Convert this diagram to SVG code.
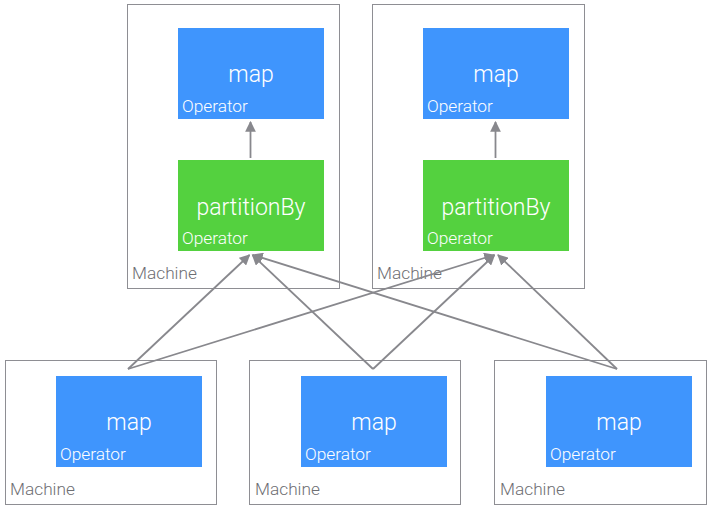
<svg xmlns="http://www.w3.org/2000/svg" width="708" height="508" viewBox="0 0 708 508">
<defs>
<style>
.machine{fill:#fff;stroke:#8e8e93;stroke-width:1}
.mlabel{font-family:Roboto,"Liberation Sans",sans-serif;font-weight:300;font-size:17.3px;fill:#6e6e73}
.map{fill:#3f95fd}
.part{fill:#54d13f}
.title{font-family:Roboto,"Liberation Sans",sans-serif;font-weight:300;font-size:23px;fill:#fff;text-anchor:middle}
.op{font-family:Roboto,"Liberation Sans",sans-serif;font-weight:300;font-size:17.3px;fill:#fff}
.conn{stroke:#88888d;stroke-width:1.8;fill:none;marker-end:url(#ah)}
</style>
<marker id="ah" viewBox="0 0 10 10" refX="9" refY="5" markerWidth="6" markerHeight="6" orient="auto" markerUnits="strokeWidth">
<path d="M0,0 L10,5 L0,10 z" fill="#88888d"/>
</marker>
</defs>
<g id="machine-top-left">
<rect class="machine" x="127.5" y="4.5" width="212" height="284"/>
<text class="mlabel" x="132" y="279">Machine</text>
</g>
<g id="machine-top-right">
<rect class="machine" x="372.5" y="4.5" width="212" height="284"/>
<text class="mlabel" x="377" y="279">Machine</text>
</g>
<g id="machine-bottom-left">
<rect class="machine" x="5.5" y="360.5" width="211" height="144"/>
<text class="mlabel" x="10" y="495">Machine</text>
</g>
<g id="machine-bottom-mid">
<rect class="machine" x="249.5" y="360.5" width="211" height="144"/>
<text class="mlabel" x="255" y="495">Machine</text>
</g>
<g id="machine-bottom-right">
<rect class="machine" x="494.5" y="360.5" width="212" height="144"/>
<text class="mlabel" x="500" y="495">Machine</text>
</g>
<g id="map-top-left">
<rect class="map" x="178" y="28" width="146" height="91"/>
<text class="title" x="251" y="82">map</text>
<text class="op" x="182" y="112">Operator</text>
</g>
<g id="partition-top-left">
<rect class="part" x="178" y="160" width="146" height="91"/>
<text class="title" x="251" y="215">partitionBy</text>
<text class="op" x="182" y="244">Operator</text>
</g>
<g id="map-top-right">
<rect class="map" x="423" y="28" width="146" height="91"/>
<text class="title" x="496" y="82">map</text>
<text class="op" x="427" y="112">Operator</text>
</g>
<g id="partition-top-right">
<rect class="part" x="423" y="160" width="146" height="91"/>
<text class="title" x="496" y="215">partitionBy</text>
<text class="op" x="427" y="244">Operator</text>
</g>
<g id="map-bottom-left">
<rect class="map" x="56" y="376" width="146" height="91"/>
<text class="title" x="129" y="430">map</text>
<text class="op" x="60" y="460">Operator</text>
</g>
<g id="map-bottom-mid">
<rect class="map" x="301" y="376" width="146" height="91"/>
<text class="title" x="374" y="430">map</text>
<text class="op" x="305" y="460">Operator</text>
</g>
<g id="map-bottom-right">
<rect class="map" x="546" y="376" width="146" height="91"/>
<text class="title" x="619" y="430">map</text>
<text class="op" x="550" y="460">Operator</text>
</g>
<g id="connectors">
<line class="conn" x1="250.5" y1="158" x2="250.5" y2="122"/>
<line class="conn" x1="495.5" y1="158" x2="495.5" y2="122"/>
<line class="conn" x1="128" y1="369" x2="249.5" y2="255"/>
<line class="conn" x1="128" y1="369" x2="494" y2="255"/>
<line class="conn" x1="373" y1="369" x2="252.5" y2="255"/>
<line class="conn" x1="373" y1="369" x2="494.5" y2="255"/>
<line class="conn" x1="617" y1="369" x2="253" y2="255"/>
<line class="conn" x1="617" y1="369" x2="498" y2="255"/>
</g>
</svg>
